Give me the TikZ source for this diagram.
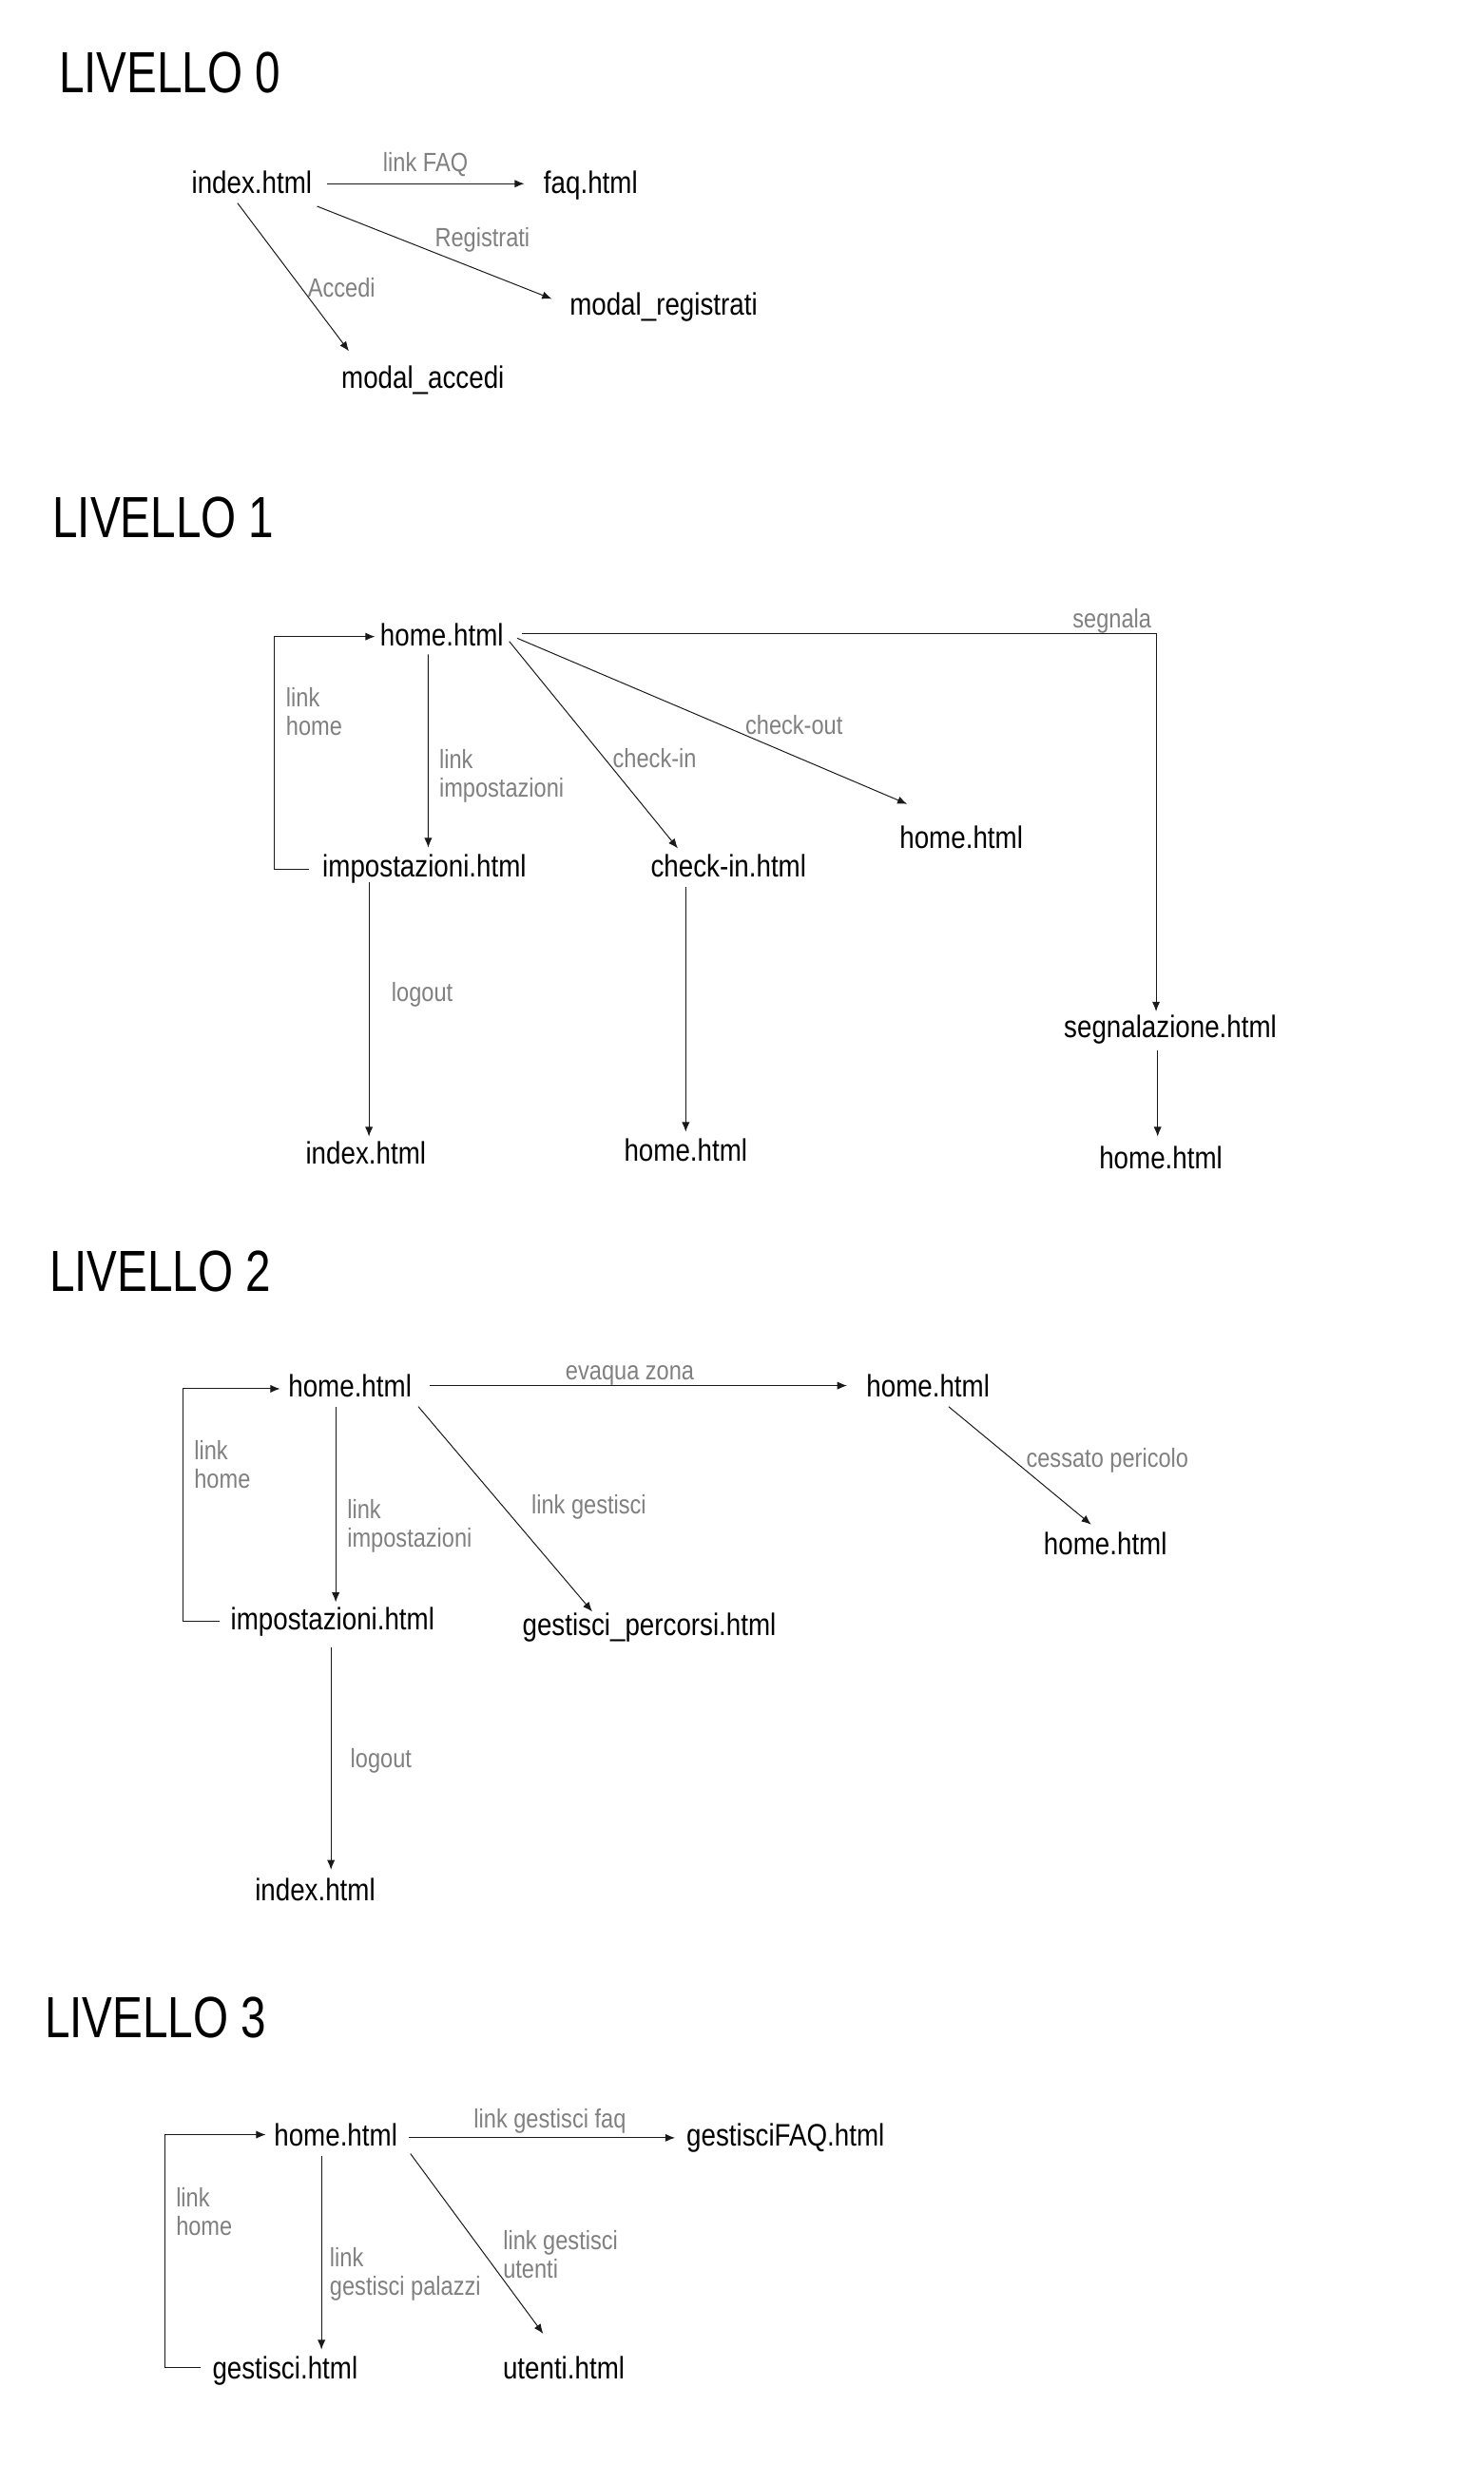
\documentclass[tikz,border=0pt]{standalone}
\usepackage{fontspec}
\setmainfont{Liberation Sans}[FakeStretch=0.85]
\newfontfamily\titlefont{Liberation Sans}[FakeStretch=0.78]
\usetikzlibrary{arrows.meta}
\colorlet{colorLabel}{black!50}
\colorlet{colorLink}{black!90}
\tikzset{
  levelTitle/.style={font=\titlefont\fontsize{27.5}{32}\selectfont, anchor=west, inner sep=0pt},
  pagenode/.style={font=\fontsize{14.7}{18}\selectfont, inner sep=0pt, text height=10.5pt, text depth=3pt},
  lbl/.style={font=\fontsize{12.5}{13.5}\selectfont, text=colorLabel, inner sep=0pt, align=left},
  link/.style={->, colorLink, line width=0.45pt}
}

\begin{document}
\begin{tikzpicture}[>={Latex[length=4.6pt,width=3.7pt]}, x=0.75pt, y=-0.75pt]
\useasboundingbox (0,0) rectangle (936.5,1568);
% livello 0
\node[levelTitle] (t0) at (37,46) {LIVELLO 0};
\node[pagenode] (idx0) at (159,117) {index.html};
\node[pagenode] (faq0) at (373,117) {faq.html};
\node[pagenode] (reg0) at (419,194) {modal\_registrati};
\node[pagenode] (acc0) at (267,240) {modal\_accedi};
\draw [link] ([shift={(9,-1)}]idx0.east) -- node[lbl, midway, above=3pt]{link FAQ} ([shift={(-12,-1)}]faq0.west);
\draw [link] ([shift={(3,4)}]idx0.south east) -- node[lbl, pos=.5, anchor=south west]{Registrati} ([shift={(-11,4)}]reg0.north west);
\draw [link] ([shift={(-9,2)}]idx0.south) -- node[lbl, pos=.57, anchor=west, xshift=3pt]{Accedi} ([shift={(5,-9)}]acc0.north west);
% livello 1
\node[levelTitle] (t1) at (33,327) {LIVELLO 1};
\node[pagenode] (home1) at (279,403) {home.html};
\node[pagenode] (imp1) at (268,549) {impostazioni.html};
\node[pagenode] (chk1) at (460,549) {check-in.html};
\node[pagenode] (hout1) at (607,531) {home.html};
\node[pagenode] (seg1) at (739,650) {segnalazione.html};
\node[pagenode] (idx1) at (231,730) {index.html};
\node[pagenode] (hchk1) at (433,728) {home.html};
\node[pagenode] (hseg1) at (733,733) {home.html};
\draw [link] ([shift={(-8,0)}]imp1.west) -- ++(-22,0) |- node[lbl, pos=.338, anchor=west, xshift=5.25pt]{link\\home} ([shift={(-3,-1)}]home1.west);
\draw [link] ([shift={(-8.6,1)}]home1.south) -- node[lbl, pos=.63, anchor=west, xshift=5pt]{link\\impostazioni} ([shift={(2.4,-4.5)}]imp1.north);
\draw [link] ([shift={(3.4,2)}]home1.east) -- node[lbl, pos=.565, anchor=west, xshift=3.75pt]{check-in} ([shift={(-32,-4)}]chk1.north);
\draw [link] ([shift={(8.4,0)}]home1.east) -- node[lbl, pos=.584, anchor=south west]{check-out} ([shift={(5,-14)}]hout1.north west);
\draw [link] ([shift={(11.4,-3)}]home1.east) -| node[lbl, pos=.5, anchor=south east, xshift=-2pt]{segnala} ([shift={(-9,-2)}]seg1.north);
\draw [link] ([shift={(-35,-1)}]imp1.south) -- node[lbl, pos=.44, anchor=west, xshift=10.5pt]{logout} ([shift={(2,-3)}]idx1.north);
\draw [link] ([shift={(-27,2)}]chk1.south) -- ([shift={(0,-4)}]hchk1.north);
\draw [link] ([shift={(-8,4)}]seg1.south) -- ([shift={(-2,-6)}]hseg1.north);
% livello 2
\node[levelTitle] (t2) at (31,803) {LIVELLO 2};
\node[pagenode] (home2) at (221,877) {home.html};
\node[pagenode] (hevq2) at (586,877) {home.html};
\node[pagenode] (hces2) at (698,977) {home.html};
\node[pagenode] (imp2) at (210,1024) {impostazioni.html};
\node[pagenode] (gper2) at (410,1028) {gestisci\_percorsi.html};
\node[pagenode] (idx2) at (199,1195) {index.html};
\draw [link] ([shift={(-7,0)}]imp2.west) -- ++(-23,0) |- node[lbl, pos=.338, anchor=west, xshift=5.25pt]{link\\home} ([shift={(-5,0)}]home2.west);
\draw [link] ([shift={(-9,2)}]home2.south) -- node[lbl, pos=.61, anchor=west, xshift=5.25pt]{link\\impostazioni} ([shift={(2,-3)}]imp2.north);
\draw [link] ([shift={(4,2)}]home2.south east) -- node[lbl, pos=.49, anchor=west, xshift=13pt]{link gestisci} ([shift={(-36,-1)}]gper2.north);
\draw [link] ([shift={(11,-2)}]home2.east) -- node[lbl, pos=.48, anchor=south]{evaqua zona} ([shift={(-12,-2)}]hevq2.west);
\draw [link] ([shift={(13,2)}]hevq2.south) -- node[lbl, pos=.453, anchor=west, xshift=6pt]{cessato pericolo} ([shift={(-9,-5)}]hces2.north);
\draw [link] ([shift={(-1,7)}]imp2.south) -- node[lbl, pos=.51, anchor=west, xshift=9pt]{logout} ([shift={(10,-5)}]idx2.north);
% livello 3
\node[levelTitle] (t3) at (28,1274) {LIVELLO 3};
\node[pagenode] (home3) at (212,1350) {home.html};
\node[pagenode] (gfaq3) at (496,1350) {gestisciFAQ.html};
\node[pagenode] (gest3) at (180,1497) {gestisci.html};
\node[pagenode] (uten3) at (356,1497) {utenti.html};
\draw [link] ([shift={(-7,-2)}]gest3.west) -- ++(-23,0) |- node[lbl, pos=.335, anchor=west, xshift=5.25pt]{link\\home} ([shift={(-5,-2)}]home3.west);
\draw [link] ([shift={(-9,2)}]home3.south) -- node[lbl, pos=.61, anchor=west, xshift=3.75pt]{link\\gestisci palazzi} ([shift={(23,-4)}]gest3.north);
\draw [link] ([shift={(7,0)}]home3.east) -- node[lbl, pos=.53, above=2pt]{link gestisci faq} ([shift={(-7,0)}]gfaq3.west);
\draw [link] ([shift={(8,10)}]home3.east) -- node[lbl, pos=.56, anchor=west, xshift=8.5pt]{link gestisci\\utenti} ([shift={(-13,-14)}]uten3.north);
\end{tikzpicture}
\end{document}
